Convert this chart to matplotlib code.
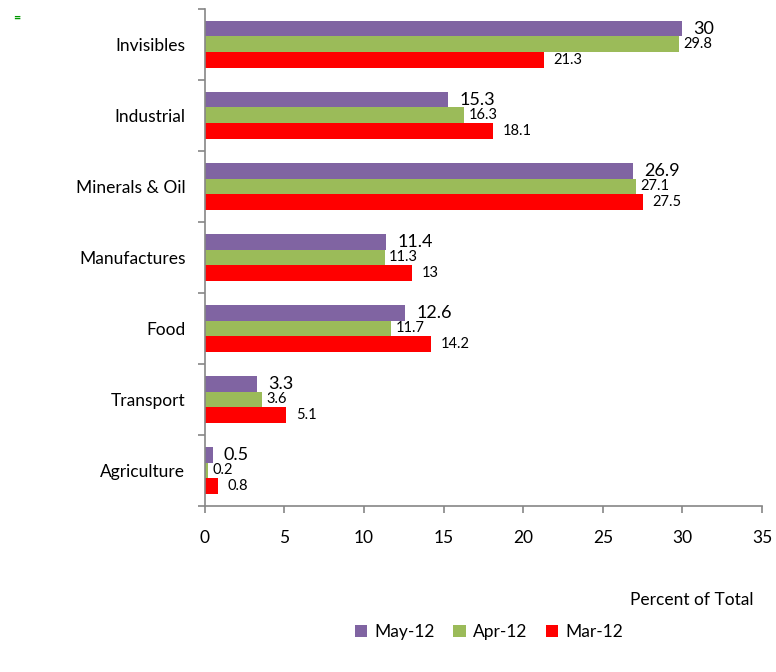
import numpy as np
import matplotlib.pyplot as plt

plt.rcParams['font.family'] = ['Lato', 'DejaVu Sans']

# data
categories = ["Invisibles", "Industrial", "Minerals & Oil", "Manufactures",
              "Food", "Transport", "Agriculture"]
may_12 = [30, 15.3, 26.9, 11.4, 12.6, 3.3, 0.5]
apr_12 = [29.8, 16.3, 27.1, 11.3, 11.7, 3.6, 0.2]
mar_12 = [21.3, 18.1, 27.5, 13, 14.2, 5.1, 0.8]

purple, green, red = "#8064A2", "#9BBB59", "#FF0000"
grey = "#868686"

fig = plt.figure(figsize=(7.76, 6.72), dpi=100)
ax = fig.add_axes([0.264, 0.247, 0.718, 0.740])

y = np.arange(len(categories))
h = 0.22
series = [(may_12, "May-12", purple, -h, 13, 8),
          (apr_12, "Apr-12", green, 0, 10.5, 3),
          (mar_12, "Mar-12", red, h, 10.5, 7)]
for vals, name, col, off, fs, pad in series:
    bars = ax.barh(y + off, vals, height=h, color=col, label=name)
    for b, v in zip(bars, vals):
        ax.annotate(f"{v:g}", (b.get_width(), b.get_y() + b.get_height() / 2),
                    xytext=(pad, 0), textcoords="offset points",
                    ha="left", va="center", fontsize=fs, color="black")

ax.set_ylim(len(categories) - 0.5, -0.5)
ax.set_xlim(0, 35)
ax.set_xticks(np.arange(0, 36, 5))
ax.set_yticks(y)
ax.set_yticklabels(categories)
ax.set_yticks(np.arange(-0.5, len(categories), 1), minor=True)
ax.tick_params(axis="y", which="major", length=0, pad=14, labelsize=12.5)
ax.tick_params(axis="y", which="minor", length=5, color=grey, width=1.2)
ax.tick_params(axis="x", length=5, color=grey, width=1.2, pad=12, labelsize=12.5)

for s in ["top", "right"]:
    ax.spines[s].set_visible(False)
for s in ["left", "bottom"]:
    ax.spines[s].set_color(grey)
    ax.spines[s].set_linewidth(1.2)

fig.text(0.892, 0.107, "Percent of Total", ha="center", va="center", fontsize=12.5)
fig.text(0.021, 0.974, "=", ha="center", va="center", fontsize=9,
         color="#009900", fontweight="bold")

ax.legend(loc="center", bbox_to_anchor=(0.63, 0.06), bbox_transform=fig.transFigure,
          ncol=3, frameon=False, fontsize=12.5, handlelength=0.7, handleheight=0.7,
          handletextpad=0.4, columnspacing=1.1)

fig.savefig("out.png", dpi=100)
